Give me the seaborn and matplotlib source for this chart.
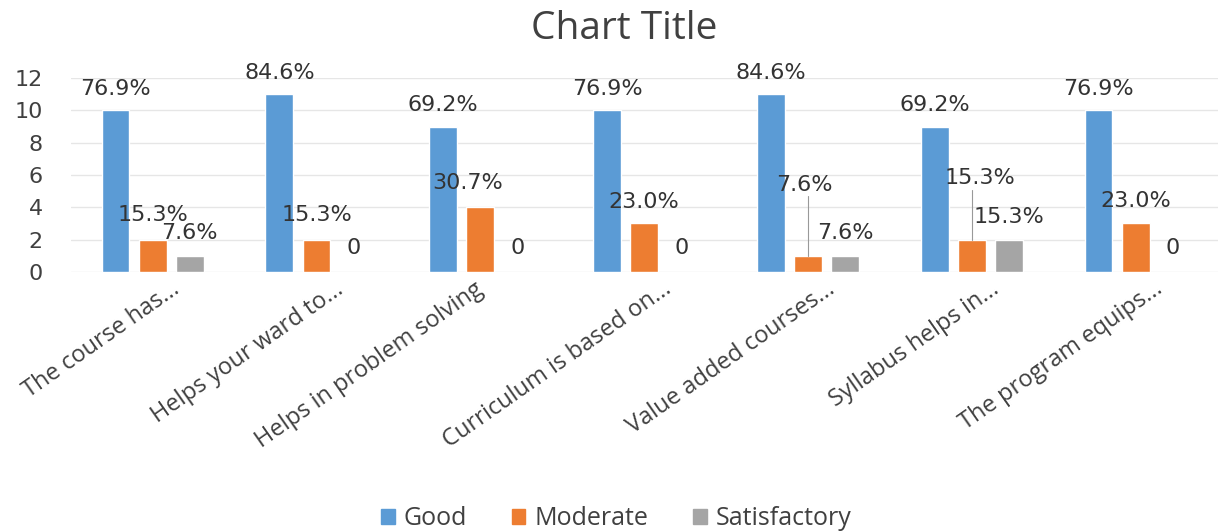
import matplotlib.pyplot as plt
import matplotlib.transforms as mtransforms
import pandas as pd
import seaborn as sns

CATEGORIES = [
    "The course has...",
    "Helps your ward to...",
    "Helps in problem solving",
    "Curriculum is based on...",
    "Value added courses...",
    "Syllabus helps in...",
    "The program equips...",
]
SERIES = ["Good", "Moderate", "Satisfactory"]
GOOD = [10, 11, 9, 10, 11, 9, 10]
MODERATE = [2, 2, 4, 3, 1, 2, 3]
SATISFACTORY = [1, 0, 0, 0, 1, 2, 0]
GOOD_LABELS = ["76.9%", "84.6%", "69.2%", "76.9%", "84.6%", "69.2%", "76.9%"]
MODERATE_LABELS = ["15.3%", "15.3%", "30.7%", "23.0%", "7.6%", "15.3%", "23.0%"]
SATISFACTORY_LABELS = ["7.6%", "0", "0", "0", "7.6%", "15.3%", "0"]

# label placement (data units), the labels were dragged around in the original
MOD_LABEL_Y = [3.5, 3.5, 5.5, 4.3, 5.4, 5.8, 4.4]
MOD_LABEL_DX = [0.0, 0.0, -0.08, 0.0, -0.02, 0.05, 0.0]
SAT_LABEL_Y = [2.4, 1.5, 1.5, 1.5, 2.4, 3.4, 1.5]
LEADER = [False, False, False, False, True, True, False]
XLABEL_NUDGE = [0.0, 0.0, -0.25, 0.0, 0.0, 0.0, 0.0]  # inches

COLORS = ["#5B9BD5", "#ED7D31", "#A5A5A5"]

df = pd.DataFrame({
    "category": CATEGORIES * 3,
    "series": [s for s in SERIES for _ in CATEGORIES],
    "value": GOOD + MODERATE + SATISFACTORY,
})

sns.set_theme(style="white")
plt.rcParams["font.family"] = ["DejaVu Sans"]

fig = plt.figure(figsize=(12.2, 5.32), dpi=100)
ax = fig.add_axes([0.058, 0.489, 0.94, 0.364])

sns.barplot(data=df, x="category", y="value", hue="series", palette=COLORS,
            width=0.68, gap=0.25, ax=ax, legend=False, saturation=1)

ax.set_ylim(0, 12)
ax.set_xlim(-0.5, 6.5)
ax.set_yticks(range(0, 13, 2))
ax.yaxis.grid(True, color="#E6E6E6", lw=1)
ax.set_axisbelow(True)
for s in ax.spines.values():
    s.set_visible(False)
ax.set_xlabel("")
ax.set_ylabel("")
ax.tick_params(axis="y", length=0, labelsize=16, labelcolor="#404040", pad=20)
ax.tick_params(axis="x", length=0, pad=0)

ax.set_xticks(range(len(CATEGORIES)))
ax.set_xticklabels(CATEGORIES, rotation=35, ha="right", va="center",
                   rotation_mode="anchor", fontsize=17, color="#404040",
                   family="Open Sans")
for lbl, nudge in zip(ax.get_xticklabels(), XLABEL_NUDGE):
    shift = mtransforms.ScaledTranslation(0.25 + nudge, -0.15, fig.dpi_scale_trans)
    lbl.set_transform(lbl.get_transform() + shift)

off = 0.68 / 3
txt = dict(fontsize=16, color="#333333", ha="center", va="center")
for i in range(len(CATEGORIES)):
    ax.text(i - off, GOOD[i] + 1.35, GOOD_LABELS[i], clip_on=False, **txt)
    ax.text(i + MOD_LABEL_DX[i], MOD_LABEL_Y[i], MODERATE_LABELS[i], **txt)
    ax.text(i + off, SAT_LABEL_Y[i], SATISFACTORY_LABELS[i], **txt)
    if LEADER[i]:
        ax.plot([i, i], [MOD_LABEL_Y[i] - 0.7, MODERATE[i]], color="#999999", lw=0.8)

fig.text(0.512, 0.945, "Chart Title", ha="center", va="center", fontsize=28,
         color="#404040", family="Open Sans")

handles = [plt.Rectangle((0, 0), 1, 1, color=c) for c in COLORS]
fig.legend(handles, SERIES, loc="center", bbox_to_anchor=(0.505, 0.025), ncol=3,
           frameon=False, prop={"family": "Open Sans", "size": 18},
           handlelength=0.55, handleheight=0.55, columnspacing=1.8,
           handletextpad=0.35, labelcolor="#404040")

fig.savefig("out.png", dpi=100, facecolor="white")
